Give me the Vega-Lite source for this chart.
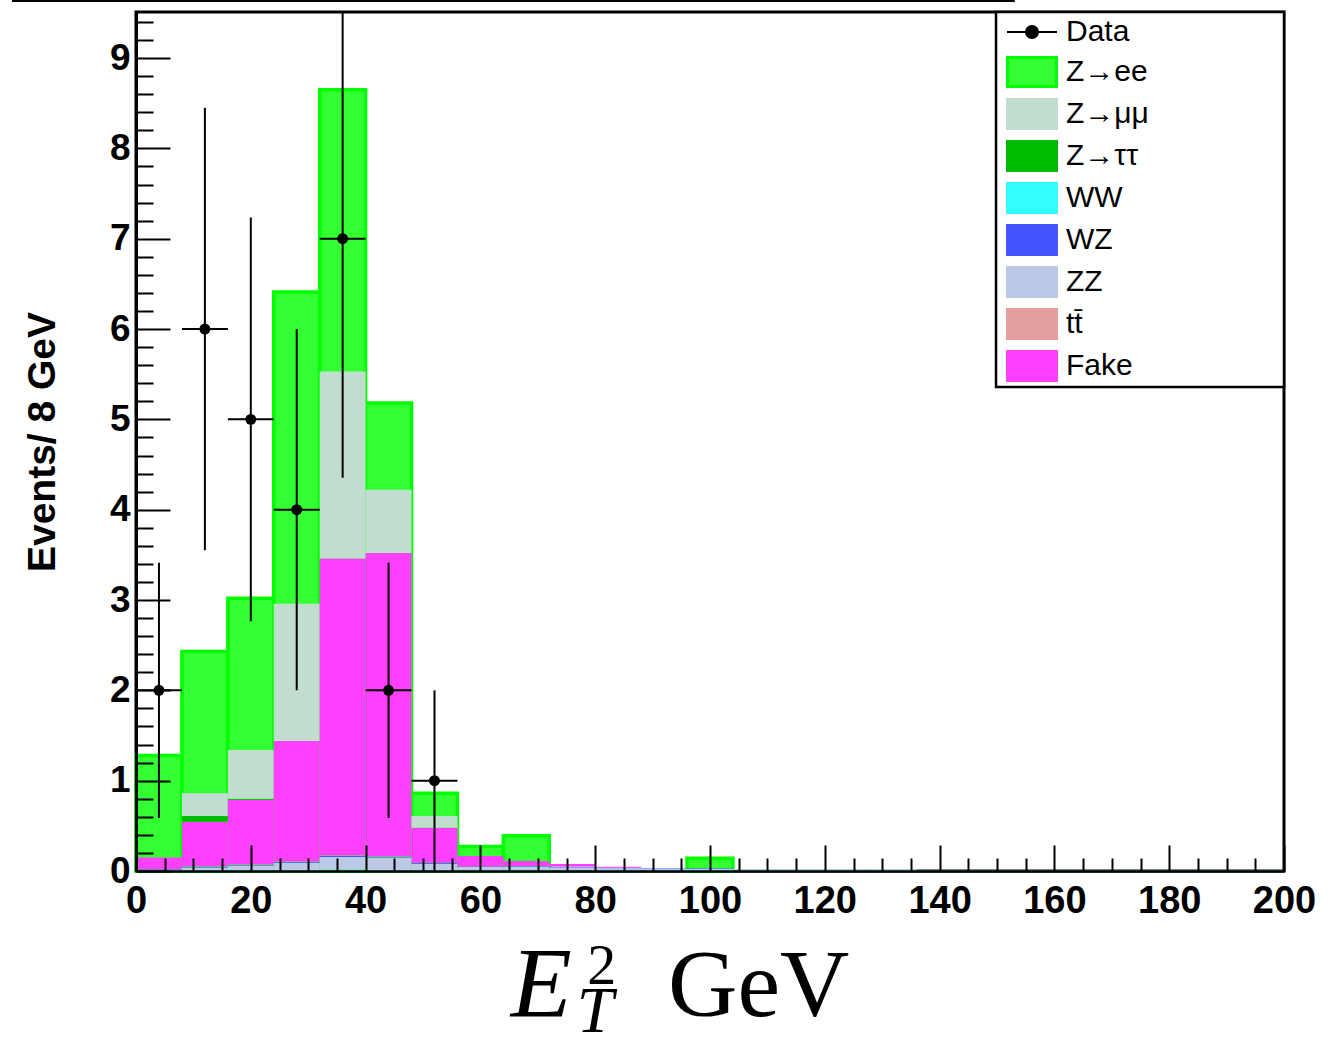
{
  "$schema": "https://vega.github.io/schema/vega-lite/v6.json",
  "width": 1148,
  "height": 859,
  "autosize": {"type": "none"},
  "padding": {"left": 136, "top": 12, "right": 50, "bottom": 168},
  "background": "white",
  "config": {
    "view": {"stroke": "black", "strokeWidth": 3},
    "font": "Liberation Sans",
    "axis": {"grid": false, "domain": false}
  },
  "datasets": {
    "mc": [
      {"lo": 0, "hi": 8, "process": "WW", "n": 0.005},
      {"lo": 0, "hi": 8, "process": "ZZ", "n": 0.01},
      {"lo": 0, "hi": 8, "process": "WZ", "n": 0.005},
      {"lo": 0, "hi": 8, "process": "Fake", "n": 0.13},
      {"lo": 0, "hi": 8, "process": "Z→ee", "n": 1.13},
      {"lo": 8, "hi": 16, "process": "WW", "n": 0.01},
      {"lo": 8, "hi": 16, "process": "ZZ", "n": 0.03},
      {"lo": 8, "hi": 16, "process": "WZ", "n": 0.01},
      {"lo": 8, "hi": 16, "process": "tt̄", "n": 0.005},
      {"lo": 8, "hi": 16, "process": "Fake", "n": 0.49},
      {"lo": 8, "hi": 16, "process": "Z→ττ", "n": 0.065},
      {"lo": 8, "hi": 16, "process": "Z→μμ", "n": 0.25},
      {"lo": 8, "hi": 16, "process": "Z→ee", "n": 1.57},
      {"lo": 16, "hi": 24, "process": "WW", "n": 0.01},
      {"lo": 16, "hi": 24, "process": "ZZ", "n": 0.05},
      {"lo": 16, "hi": 24, "process": "WZ", "n": 0.01},
      {"lo": 16, "hi": 24, "process": "tt̄", "n": 0.005},
      {"lo": 16, "hi": 24, "process": "Fake", "n": 0.715},
      {"lo": 16, "hi": 24, "process": "Z→ττ", "n": 0.01},
      {"lo": 16, "hi": 24, "process": "Z→μμ", "n": 0.54},
      {"lo": 16, "hi": 24, "process": "Z→ee", "n": 1.68},
      {"lo": 24, "hi": 32, "process": "WW", "n": 0.01},
      {"lo": 24, "hi": 32, "process": "ZZ", "n": 0.08},
      {"lo": 24, "hi": 32, "process": "WZ", "n": 0.01},
      {"lo": 24, "hi": 32, "process": "tt̄", "n": 0.005},
      {"lo": 24, "hi": 32, "process": "Fake", "n": 1.335},
      {"lo": 24, "hi": 32, "process": "Z→μμ", "n": 1.52},
      {"lo": 24, "hi": 32, "process": "Z→ee", "n": 3.45},
      {"lo": 32, "hi": 40, "process": "WW", "n": 0.015},
      {"lo": 32, "hi": 40, "process": "ZZ", "n": 0.14},
      {"lo": 32, "hi": 40, "process": "WZ", "n": 0.015},
      {"lo": 32, "hi": 40, "process": "tt̄", "n": 0.005},
      {"lo": 32, "hi": 40, "process": "Fake", "n": 3.285},
      {"lo": 32, "hi": 40, "process": "Z→μμ", "n": 2.07},
      {"lo": 32, "hi": 40, "process": "Z→ee", "n": 3.12},
      {"lo": 40, "hi": 48, "process": "WW", "n": 0.01},
      {"lo": 40, "hi": 48, "process": "ZZ", "n": 0.14},
      {"lo": 40, "hi": 48, "process": "WZ", "n": 0.01},
      {"lo": 40, "hi": 48, "process": "tt̄", "n": 0.005},
      {"lo": 40, "hi": 48, "process": "Fake", "n": 3.355},
      {"lo": 40, "hi": 48, "process": "Z→μμ", "n": 0.7},
      {"lo": 40, "hi": 48, "process": "Z→ee", "n": 0.96},
      {"lo": 48, "hi": 56, "process": "WW", "n": 0.01},
      {"lo": 48, "hi": 56, "process": "ZZ", "n": 0.07},
      {"lo": 48, "hi": 56, "process": "WZ", "n": 0.01},
      {"lo": 48, "hi": 56, "process": "Fake", "n": 0.39},
      {"lo": 48, "hi": 56, "process": "Z→μμ", "n": 0.13},
      {"lo": 48, "hi": 56, "process": "Z→ee", "n": 0.25},
      {"lo": 56, "hi": 64, "process": "WW", "n": 0.01},
      {"lo": 56, "hi": 64, "process": "ZZ", "n": 0.035},
      {"lo": 56, "hi": 64, "process": "WZ", "n": 0.005},
      {"lo": 56, "hi": 64, "process": "Fake", "n": 0.116},
      {"lo": 56, "hi": 64, "process": "Z→ee", "n": 0.104},
      {"lo": 64, "hi": 72, "process": "WW", "n": 0.01},
      {"lo": 64, "hi": 72, "process": "ZZ", "n": 0.04},
      {"lo": 64, "hi": 72, "process": "WZ", "n": 0.005},
      {"lo": 64, "hi": 72, "process": "Fake", "n": 0.055},
      {"lo": 64, "hi": 72, "process": "Z→ee", "n": 0.28},
      {"lo": 72, "hi": 80, "process": "WW", "n": 0.01},
      {"lo": 72, "hi": 80, "process": "ZZ", "n": 0.03},
      {"lo": 72, "hi": 80, "process": "WZ", "n": 0.005},
      {"lo": 72, "hi": 80, "process": "tt̄", "n": 0.005},
      {"lo": 72, "hi": 80, "process": "Fake", "n": 0.027},
      {"lo": 80, "hi": 88, "process": "WW", "n": 0.01},
      {"lo": 80, "hi": 88, "process": "ZZ", "n": 0.02},
      {"lo": 80, "hi": 88, "process": "WZ", "n": 0.005},
      {"lo": 80, "hi": 88, "process": "Fake", "n": 0.012},
      {"lo": 88, "hi": 96, "process": "WW", "n": 0.01},
      {"lo": 88, "hi": 96, "process": "ZZ", "n": 0.015},
      {"lo": 88, "hi": 96, "process": "WZ", "n": 0.005},
      {"lo": 96, "hi": 104, "process": "WW", "n": 0.01},
      {"lo": 96, "hi": 104, "process": "ZZ", "n": 0.015},
      {"lo": 96, "hi": 104, "process": "WZ", "n": 0.005},
      {"lo": 96, "hi": 104, "process": "Z→ee", "n": 0.11},
      {"lo": 104, "hi": 112, "process": "WW", "n": 0.01},
      {"lo": 104, "hi": 112, "process": "ZZ", "n": 0.012},
      {"lo": 112, "hi": 120, "process": "WW", "n": 0.01},
      {"lo": 112, "hi": 120, "process": "ZZ", "n": 0.012},
      {"lo": 120, "hi": 128, "process": "WW", "n": 0.01},
      {"lo": 120, "hi": 128, "process": "ZZ", "n": 0.012},
      {"lo": 128, "hi": 136, "process": "WW", "n": 0.01},
      {"lo": 128, "hi": 136, "process": "ZZ", "n": 0.012},
      {"lo": 136, "hi": 144, "process": "WW", "n": 0.008},
      {"lo": 144, "hi": 152, "process": "WW", "n": 0.008},
      {"lo": 152, "hi": 160, "process": "WW", "n": 0.008},
      {"lo": 160, "hi": 168, "process": "WW", "n": 0.008},
      {"lo": 168, "hi": 176, "process": "WW", "n": 0.008},
      {"lo": 176, "hi": 184, "process": "WW", "n": 0.008},
      {"lo": 184, "hi": 192, "process": "WW", "n": 0.008},
      {"lo": 192, "hi": 200, "process": "WW", "n": 0.008}
    ],
    "obs": [
      {"lo": 0, "hi": 8, "xc": 4, "n": 2, "nlo": 0.586, "nhi": 3.414},
      {"lo": 8, "hi": 16, "xc": 12, "n": 6, "nlo": 3.551, "nhi": 8.449},
      {"lo": 16, "hi": 24, "xc": 20, "n": 5, "nlo": 2.764, "nhi": 7.236},
      {"lo": 24, "hi": 32, "xc": 28, "n": 4, "nlo": 2, "nhi": 6},
      {"lo": 32, "hi": 40, "xc": 36, "n": 7, "nlo": 4.354, "nhi": 9.646},
      {"lo": 40, "hi": 48, "xc": 44, "n": 2, "nlo": 0.586, "nhi": 3.414},
      {"lo": 48, "hi": 56, "xc": 52, "n": 1, "nlo": 0, "nhi": 2}
    ]
  },
  "resolve": {"axis": {"x": "independent", "y": "independent"}},
  "layer": [
    {
      "description": "Z→ee drawn as the full stack height with its outline; the lower processes are painted over it",
      "data": {"name": "mc"},
      "transform": [
        {"stack": "n", "groupby": ["lo"], "as": ["n0", "n1"]},
        {"filter": "datum.process === 'Z→ee'"}
      ],
      "mark": {"type": "bar", "fill": "#33ff33", "stroke": "#00ff00", "strokeWidth": 3.5},
      "encoding": {
        "x": {"field": "lo", "type": "quantitative", "scale": {"domain": [0, 200], "nice": false, "zero": false}, "axis": null},
        "x2": {"field": "hi"},
        "y": {"field": "n1", "type": "quantitative", "scale": {"domain": [0, 9.51], "nice": false}, "axis": null},
        "y2": {"datum": 0}
      }
    },
    {
      "description": "remaining processes, stacked bottom-up in row order",
      "data": {"name": "mc"},
      "transform": [
        {"stack": "n", "groupby": ["lo"], "as": ["n0", "n1"]},
        {"filter": "datum.process !== 'Z→ee'"}
      ],
      "mark": {"type": "bar", "strokeWidth": 0},
      "encoding": {
        "x": {
          "field": "lo", "type": "quantitative",
          "scale": {"domain": [0, 200], "nice": false, "zero": false},
          "axis": {
            "orient": "bottom", "zindex": 1,
            "values": [0, 20, 40, 60, 80, 100, 120, 140, 160, 180, 200],
            "domain": true, "domainColor": "black", "domainWidth": 2.5,
            "tickSize": -26, "tickWidth": 2, "tickColor": "black",
            "labelFont": "Liberation Sans", "labelFontWeight": "bold", "labelFontSize": 38,
            "labelColor": "black", "labelPadding": 37, "labelFlush": false, "labelOverlap": false,
            "title": null
          }
        },
        "x2": {"field": "hi"},
        "y": {
          "field": "n0", "type": "quantitative",
          "scale": {"domain": [0, 9.51], "nice": false},
          "axis": {
            "orient": "left", "zindex": 1,
            "values": [0, 1, 2, 3, 4, 5, 6, 7, 8, 9],
            "domain": true, "domainColor": "black", "domainWidth": 3,
            "tickSize": -34, "tickWidth": 2, "tickColor": "black",
            "labelFont": "Liberation Sans", "labelFontWeight": "bold", "labelFontSize": 37,
            "labelColor": "black", "labelPadding": 40, "labelFlush": false, "labelOverlap": false,
            "title": "Events/ 8 GeV",
            "titleFont": "Liberation Sans", "titleFontWeight": "bold", "titleFontSize": 39,
            "titleColor": "black", "titlePadding": 47
          }
        },
        "y2": {"field": "n1"},
        "color": {
          "field": "process", "type": "nominal",
          "scale": {
            "domain": ["Data", "Z→ee", "Z→μμ", "Z→ττ", "WW", "WZ", "ZZ", "tt̄", "Fake"],
            "range": ["#000000", "#33ff33", "#c0ddd0", "#00bb00", "#33ffff", "#4455ff", "#bbc8e6", "#e3a09f", "#ff40ff"]
          },
          "legend": {
            "orient": "none", "legendX": 860, "legendY": 5,
            "title": null, "direction": "vertical",
            "padding": 0,
            "symbolType": "M-1.53,-0.91H1.53V0.91H-1.53Z",
            "symbolSize": 1024, "symbolOffset": 21, "symbolOpacity": 1,
            "labelOffset": 19, "labelFont": "Liberation Sans", "labelFontSize": 30,
            "labelColor": "black", "labelLimit": 0, "rowPadding": 0,
            "encode": {
              "legend": {"update": {"strokeWidth": {"value": 0}}},
              "symbols": {
                "update": {
                  "shape": {"signal": "datum.value === 'Data' ? 'M-1.53,-0.91M1.53,0.91M-1.56,0H1.56M-0.38,0A0.38,0.38 0 1,0 0.38,0A0.38,0.38 0 1,0 -0.38,0Z' : 'M-1.53,-0.91H1.53V0.91H-1.53Z'"},
                  "stroke": {"signal": "datum.value === 'Data' ? '#000000' : datum.value === 'Z→ee' ? '#00ff00' : datum.value === 'Z→μμ' ? '#c0ddd0' : datum.value === 'Z→ττ' ? '#00bb00' : datum.value === 'WW' ? '#33ffff' : datum.value === 'WZ' ? '#4455ff' : datum.value === 'ZZ' ? '#bbc8e6' : datum.value === 'Fake' ? '#ff40ff' : '#e3a09f'"},
                  "strokeWidth": {"signal": "datum.value === 'Data' ? 2 : 3"}
                }
              }
            }
          }
        }
      }
    },
    {
      "description": "legend panel",
      "data": {"values": [{}]},
      "mark": {"type": "rect", "fill": "white", "stroke": "black", "strokeWidth": 2.5},
      "encoding": {
        "x": {"datum": 149.83, "type": "quantitative", "scale": {"domain": [0, 200], "nice": false, "zero": false}, "axis": null},
        "x2": {"datum": 200},
        "y": {"datum": 9.51, "type": "quantitative", "scale": {"domain": [0, 9.51], "nice": false}, "axis": null},
        "y2": {"datum": 5.358}
      }
    },
    {
      "description": "data: vertical error bars and minor ticks",
      "data": {"name": "obs"},
      "mark": {"type": "rule", "color": "black", "strokeWidth": 2, "clip": true},
      "encoding": {
        "x": {
          "field": "xc", "type": "quantitative",
          "scale": {"domain": [0, 200], "nice": false, "zero": false},
          "axis": {
            "orient": "bottom", "zindex": 1,
            "values": [5, 10, 15, 25, 30, 35, 45, 50, 55, 65, 70, 75, 85, 90, 95, 105, 110, 115, 125, 130, 135, 145, 150, 155, 165, 170, 175, 185, 190, 195],
            "domain": false, "labels": false, "title": null,
            "tickSize": -13, "tickWidth": 2, "tickColor": "black"
          }
        },
        "y": {
          "field": "nlo", "type": "quantitative",
          "scale": {"domain": [0, 9.51], "nice": false},
          "axis": {
            "orient": "left", "zindex": 1,
            "values": [0.2, 0.4, 0.6, 0.8, 1.2, 1.4, 1.6, 1.8, 2.2, 2.4, 2.6, 2.8, 3.2, 3.4, 3.6, 3.8, 4.2, 4.4, 4.6, 4.8, 5.2, 5.4, 5.6, 5.8, 6.2, 6.4, 6.6, 6.8, 7.2, 7.4, 7.6, 7.8, 8.2, 8.4, 8.6, 8.8, 9.2, 9.4],
            "domain": false, "labels": false, "title": null,
            "tickSize": -17, "tickWidth": 2, "tickColor": "black"
          }
        },
        "y2": {"field": "nhi"}
      }
    },
    {
      "description": "data: horizontal bin-width bars",
      "data": {"name": "obs"},
      "mark": {"type": "rule", "color": "black", "strokeWidth": 2},
      "encoding": {
        "x": {"field": "lo", "type": "quantitative", "scale": {"domain": [0, 200], "nice": false, "zero": false}, "axis": null},
        "x2": {"field": "hi"},
        "y": {"field": "n", "type": "quantitative", "scale": {"domain": [0, 9.51], "nice": false}, "axis": null}
      }
    },
    {
      "description": "data: markers",
      "data": {"name": "obs"},
      "mark": {"type": "point", "shape": "circle", "filled": true, "size": 120, "color": "black", "opacity": 1},
      "encoding": {
        "x": {"field": "xc", "type": "quantitative", "scale": {"domain": [0, 200], "nice": false, "zero": false}, "axis": null},
        "y": {"field": "n", "type": "quantitative", "scale": {"domain": [0, 9.51], "nice": false}, "axis": null}
      }
    },
    {
      "description": "thin rule above the frame",
      "data": {"values": [{}]},
      "mark": {"type": "rule", "color": "black", "strokeWidth": 2.5},
      "encoding": {
        "x": {"datum": -21.6, "type": "quantitative", "scale": {"domain": [0, 200], "nice": false, "zero": false}, "axis": null},
        "x2": {"datum": 153.1},
        "y": {"datum": 9.634, "type": "quantitative", "scale": {"domain": [0, 9.51], "nice": false}, "axis": null}
      }
    },
    {
      "description": "x title: E",
      "data": {"values": [{}]},
      "mark": {"type": "text", "text": "E", "font": "Liberation Serif", "fontStyle": "italic", "fontSize": 100, "align": "left", "baseline": "alphabetic", "dy": 145, "color": "black"},
      "encoding": {
        "x": {"datum": 65.3, "type": "quantitative", "scale": {"domain": [0, 200], "nice": false, "zero": false}, "axis": null},
        "y": {"datum": 0, "type": "quantitative", "scale": {"domain": [0, 9.51], "nice": false}, "axis": null}
      }
    },
    {
      "description": "x title: superscript 2",
      "data": {"values": [{}]},
      "mark": {"type": "text", "text": "2", "font": "Liberation Serif", "fontSize": 58, "align": "left", "baseline": "alphabetic", "dy": 113, "color": "black"},
      "encoding": {
        "x": {"datum": 78.6, "type": "quantitative", "scale": {"domain": [0, 200], "nice": false, "zero": false}, "axis": null},
        "y": {"datum": 0, "type": "quantitative", "scale": {"domain": [0, 9.51], "nice": false}, "axis": null}
      }
    },
    {
      "description": "x title: subscript T",
      "data": {"values": [{}]},
      "mark": {"type": "text", "text": "T", "font": "Liberation Serif", "fontStyle": "italic", "fontSize": 66, "align": "left", "baseline": "alphabetic", "dy": 161, "color": "black"},
      "encoding": {
        "x": {"datum": 76.8, "type": "quantitative", "scale": {"domain": [0, 200], "nice": false, "zero": false}, "axis": null},
        "y": {"datum": 0, "type": "quantitative", "scale": {"domain": [0, 9.51], "nice": false}, "axis": null}
      }
    },
    {
      "description": "x title: unit",
      "data": {"values": [{}]},
      "mark": {"type": "text", "text": "GeV", "font": "Liberation Serif", "fontSize": 96, "align": "left", "baseline": "alphabetic", "dy": 145, "color": "black"},
      "encoding": {
        "x": {"datum": 92.7, "type": "quantitative", "scale": {"domain": [0, 200], "nice": false, "zero": false}, "axis": null},
        "y": {"datum": 0, "type": "quantitative", "scale": {"domain": [0, 9.51], "nice": false}, "axis": null}
      }
    }
  ]
}
